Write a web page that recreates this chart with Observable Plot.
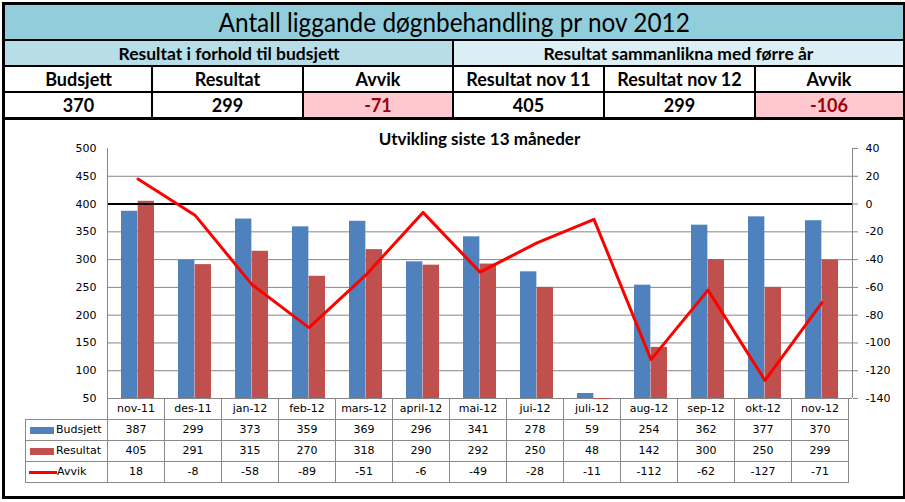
<!DOCTYPE html>
<html><head><meta charset="utf-8">
<script src="https://cdn.jsdelivr.net/npm/d3@7"></script>
<script src="https://cdn.jsdelivr.net/npm/@observablehq/plot@0.6"></script>
<style>
html,body{margin:0;padding:0;background:#fff;}
#page{position:relative;width:905px;height:502px;overflow:hidden;background:#fff;}
.cell{position:absolute;box-sizing:border-box;display:flex;align-items:center;justify-content:center;font-family:Lato,"Open Sans",sans-serif;color:#000;white-space:nowrap;}
.cell span{display:inline-block;}
.cell.tt span{transform:scaleX(0.92);}
.ln{position:absolute;background:#000;}
#dt{position:absolute;left:25px;top:398px;border-collapse:collapse;table-layout:fixed;font-family:"DejaVu Sans",Verdana,sans-serif;font-size:11px;color:#000;}
#dt td{border:1px solid #898989;padding:0;text-align:center;height:20px;line-height:20px;white-space:nowrap;overflow:hidden;}
#dt td.lg{text-align:left;padding-left:4px;}
.key{display:inline-block;vertical-align:middle;margin-right:2px;}
#ctitle{position:absolute;left:107px;width:745px;top:128px;text-align:center;font-family:Lato,sans-serif;font-weight:bold;font-size:17px;}
#plot{position:absolute;left:0;top:120px;z-index:2;}
</style></head><body><div id="page"></div>
<script>
// ---- data ----
const mainTitle = "Antall liggande døgnbehandling pr nov 2012";
const groupLabels = ["Resultat i forhold til budsjett", "Resultat sammanlikna med førre år"];
const headerLabels = ["Budsjett", "Resultat", "Avvik", "Resultat nov 11", "Resultat nov 12", "Avvik"];
const headerValues = [370, 299, -71, 405, 299, -106];
const chartTitle = "Utvikling siste 13 måneder";
const months = ["nov-11","des-11","jan-12","feb-12","mars-12","april-12","mai-12","jui-12","juli-12","aug-12","sep-12","okt-12","nov-12"];
const budsjett = [387,299,373,359,369,296,341,278,59,254,362,377,370];
const resultat = [405,291,315,270,318,290,292,250,48,142,300,250,299];
const avvik = [18,-8,-58,-89,-51,-6,-49,-28,-11,-112,-62,-127,-71];
const seriesNames = ["Budsjett", "Resultat", "Avvik"];
const leftTicks = [50,100,150,200,250,300,350,400,450,500];
const rightTicks = [-140,-120,-100,-80,-60,-40,-20,0,20,40];

// ---- layout ----
const page = document.getElementById("page");
function box(x, y, w, h, cls, css, text) {
  const d = document.createElement("div");
  d.className = cls;
  Object.assign(d.style, {left: x + "px", top: y + "px", width: w + "px", height: h + "px"}, css || {});
  if (text !== undefined) { const s = document.createElement("span"); s.textContent = text; d.appendChild(s); }
  page.appendChild(d);
  return d;
}
const colX = [5, 152, 303, 453, 604, 755, 903];
// title
box(5, 5, 898, 34, "cell tt", {background: "#92CDDC", fontSize: "26.5px"}, mainTitle);
// group row
box(5, 41, 448, 24, "cell", {background: "#B7DEE8", fontSize: "17.5px", fontWeight: "bold"}, groupLabels[0]);
box(454, 41, 449, 24, "cell", {background: "#DAEEF3", fontSize: "17.5px", fontWeight: "bold"}, groupLabels[1]);
// headers + values
headerLabels.forEach((lab, i) => {
  const x0 = colX[i], x1 = colX[i + 1];
  box(x0, 67, x1 - x0, 24, "cell", {fontSize: "18px", fontWeight: "bold"}, lab);
  const neg = lab === "Avvik";
  box(x0, 93, x1 - x0, 24, "cell", {fontSize: "18px", fontWeight: "bold", background: neg ? "#FFC7CE" : "#fff", color: neg ? "#9C0006" : "#000"}, String(headerValues[i]));
});
// lines
[39, 65, 91].forEach(y => box(5, y, 898, 2, "ln"));
box(5, 117, 898, 3, "ln");
box(452, 39, 2, 78, "ln");
[151, 302, 603, 754].forEach(x => box(x, 65, 2, 52, "ln"));
// outer frame
box(2, 2, 904, 497, "", {position: "absolute", boxSizing: "border-box", border: "3px solid #000"});

// chart title
const ct = document.createElement("div"); ct.id = "ctitle"; ct.textContent = chartTitle; page.appendChild(ct);

// ---- plot ----
const toLeft = v => 50 + (v + 140) * 2.5; // right-axis value -> left-axis scale
const rows = months.map((m, i) => ({month: m, budsjett: budsjett[i], resultat: resultat[i], avvik: avvik[i]}));
const axisLines = (index, scales, values, dim) => {
  const g = d3.create("svg:g").attr("stroke", "#868686").attr("shape-rendering", "crispEdges");
  const x0 = dim.marginLeft, x1 = dim.width - dim.marginRight, y0 = dim.marginTop, y1 = dim.height - dim.marginBottom;
  g.append("line").attr("x1", x0 + 0.5).attr("x2", x0 + 0.5).attr("y1", y0).attr("y2", y1);
  g.append("line").attr("x1", x1 + 0.5).attr("x2", x1 + 0.5).attr("y1", y0).attr("y2", y1);
  return g.node();
};
const chart = Plot.plot({
  width: 905, height: 288,
  marginTop: 28, marginBottom: 10, marginLeft: 107, marginRight: 53,
  style: {fontFamily: "'DejaVu Sans', Verdana, sans-serif", fontSize: "11px", background: "transparent", overflow: "visible", color: "#000"},
  x: {type: "band", domain: months, padding: 0, axis: null},
  y: {domain: [50, 500], axis: null},
  marks: [
    Plot.gridY(leftTicks.slice(0, -1), {stroke: "#868686", strokeOpacity: 1, strokeWidth: 1}),
    Plot.barY(rows, {x: "month", y1: () => 50, y2: "budsjett", fill: "#4F81BD", insetLeft: 12, insetRight: 28.65}),
    Plot.barY(rows, {x: "month", y1: () => 50, y2: "resultat", fill: "#C0504D", insetLeft: 28.65, insetRight: 12}),
    Plot.ruleY([toLeft(0)], {stroke: "#000", strokeWidth: 2}),
    Plot.line(rows, {x: "month", y: d => toLeft(d.avvik), stroke: "#FF0000", strokeWidth: 3}),
    axisLines,
    Plot.axisY(leftTicks, {anchor: "left", tickSize: 0, tickPadding: 11, label: null, fontSize: 11}),
    Plot.axisY(rightTicks.map(toLeft), {anchor: "right", tickSize: 5, tickPadding: 8, label: null, stroke: "#868686", tickFormat: d => String(Math.round((d - 50) / 2.5 - 140)), fontSize: 11})
  ]
});
chart.id = "plot";
page.appendChild(chart);

// ---- data table ----
const xs = chart.scale("x");
const bw = xs.bandwidth;
const tbl = document.createElement("table"); tbl.id = "dt";
const cg = document.createElement("colgroup");
const c0 = document.createElement("col"); c0.style.width = (107 - 25) + "px"; cg.appendChild(c0);
months.forEach(() => { const c = document.createElement("col"); c.style.width = bw + "px"; cg.appendChild(c); });
tbl.appendChild(cg);
tbl.style.width = (107 - 25 + bw * months.length) + "px";
function addRow(first, vals, isHead) {
  const tr = document.createElement("tr");
  const td0 = document.createElement("td");
  if (isHead) { td0.style.borderTop = "none"; td0.style.borderLeft = "none"; }
  else { td0.className = "lg"; td0.appendChild(first); }
  tr.appendChild(td0);
  vals.forEach(v => { const td = document.createElement("td"); td.textContent = v; tr.appendChild(td); });
  tbl.appendChild(tr);
  return tr;
}
function legendKey(name, color, isLine) {
  const f = document.createElement("span");
  const k = document.createElement("span"); k.className = "key";
  if (isLine) Object.assign(k.style, {width: "28px", height: "3px", background: color, marginLeft: "-1px", marginRight: "0"});
  else Object.assign(k.style, {width: "24px", height: "7px", background: color});
  f.appendChild(k); f.appendChild(document.createTextNode(name));
  return f;
}
const r0 = addRow(null, months, true);
r0.children[0].style.height = "19px";
addRow(legendKey(seriesNames[0], "#4F81BD"), budsjett);
addRow(legendKey(seriesNames[1], "#C0504D"), resultat);
addRow(legendKey(seriesNames[2], "#FF0000", true), avvik);
page.appendChild(tbl);
</script></body></html>
